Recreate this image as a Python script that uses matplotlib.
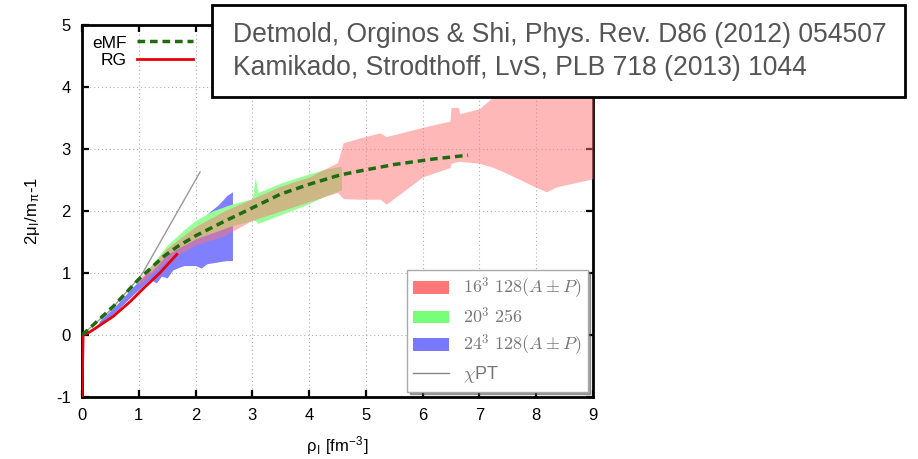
import matplotlib
matplotlib.use("Agg")
import matplotlib.pyplot as plt
from matplotlib.patches import Patch, Rectangle
from matplotlib.lines import Line2D

plt.rcParams["font.family"] = ["Liberation Sans", "DejaVu Sans"]
plt.rcParams["mathtext.fontset"] = "cm"
plt.rcParams["axes.unicode_minus"] = False

# 16^3 128(A+-P) band
red_x = [1.0, 1.5, 2.0, 2.5, 3.0, 3.5, 4.0, 4.5, 4.6, 4.9, 5.25, 5.36, 6.0,
         6.48, 6.5, 6.63, 6.65, 7.0, 7.25, 7.5, 8.0, 8.18, 8.36, 8.65, 9.0]
red_hi = [0.9, 1.4, 1.75, 2.0, 2.2, 2.4, 2.55, 2.78, 3.1, 3.18, 3.26, 3.2, 3.35,
          3.45, 3.67, 3.67, 3.57, 3.65, 3.85, 4.0, 4.1, 4.1, 4.1, 4.1, 4.1]
red_lo = [0.8, 1.2, 1.45, 1.6, 1.85, 2.0, 2.15, 2.3, 2.2, 2.19, 2.19, 2.11, 2.55,
          2.7, 2.77, 2.8, 2.8, 2.77, 2.7, 2.6, 2.38, 2.31, 2.39, 2.45, 2.52]

# 20^3 256 band
green_x = [1.2, 1.5, 1.8, 2.0, 2.3, 2.6, 3.0, 3.05, 3.1, 3.5, 4.0, 4.3, 4.57]
green_hi = [1.1, 1.45, 1.7, 1.85, 2.0, 2.1, 2.2, 2.55, 2.3, 2.45, 2.6, 2.68, 2.72]
green_lo = [1.0, 1.3, 1.45, 1.55, 1.65, 1.75, 1.85, 1.85, 1.8, 1.94, 2.12, 2.25, 2.34]

# 24^3 128(A+-P) band
blue_x = [0.3, 0.6, 0.9, 1.2, 1.31, 1.4, 1.5, 1.6, 1.73, 1.8, 2.0, 2.1, 2.2, 2.4, 2.55, 2.65]
blue_hi = [0.22, 0.48, 0.78, 1.05, 1.15, 1.22, 1.3, 1.38, 1.45, 1.55, 1.72, 1.82, 1.95, 2.1, 2.25, 2.31]
blue_lo = [0.15, 0.38, 0.65, 0.9, 0.84, 0.95, 0.92, 1.05, 1.1, 1.12, 1.12, 1.08, 1.15, 1.18, 1.2, 1.2]

emf_x = [0.0, 0.1, 0.55, 1.0, 1.43, 1.67, 2.0, 2.5, 3.0, 3.49, 4.0, 4.54, 4.89, 5.5, 6.2, 6.8]
emf_y = [0.0, 0.08, 0.46, 0.9, 1.26, 1.42, 1.6, 1.83, 2.05, 2.27, 2.43, 2.58, 2.645, 2.75, 2.84, 2.90]

rg_x = [0.0, 0.02, 0.14, 0.32, 0.55, 0.85, 1.08, 1.37, 1.67]
rg_y = [-1.0, 0.0, 0.05, 0.16, 0.30, 0.54, 0.75, 1.0, 1.30]

chpt_x = [0.0, 0.5, 1.05, 2.08]
chpt_y = [0.0, 0.4, 0.97, 2.63]

ref_lines = [
    "Detmold, Orginos & Shi, Phys. Rev. D86 (2012) 054507",
    "Kamikado, Strodthoff, LvS, PLB 718 (2013) 1044",
]

RED_C = (1.0, 115 / 255, 115 / 255)
GREEN_C = "#99ff99"
BLUE_C = "#8080ff"
EMF_C = "#1f6b12"
GRID_C = "#b0b0b0"

fig = plt.figure(figsize=(9.18, 4.59), dpi=100)
ax = fig.add_axes([82 / 918, 1 - 397 / 459, 511 / 918, 372 / 459])

ax.fill_between(blue_x, blue_lo, blue_hi, color=BLUE_C, lw=0, zorder=1)
ax.fill_between(green_x, green_lo, green_hi, color=GREEN_C, lw=0, zorder=2)
ax.fill_between(red_x, red_lo, red_hi, color=RED_C, alpha=0.5, lw=0, zorder=3)

ax.plot(chpt_x, chpt_y, color="#999999", lw=1.0, zorder=4)
ax.plot(rg_x, rg_y, color="#e8000b", lw=2.0, zorder=5)
ax.plot(emf_x, emf_y, color=EMF_C, lw=2.5, dashes=(2.2, 1.4), zorder=6)

ax.set_xlim(0, 9)
ax.set_ylim(-1, 5)
ax.set_xticks(range(0, 10))
ax.set_yticks(range(-1, 6))
ax.grid(True, color=GRID_C, linestyle=(0, (1, 2.5)), lw=0.8)
ax.set_axisbelow(True)
for sp in ax.spines.values():
    sp.set_linewidth(2.0)
ax.tick_params(direction="in", length=5, width=1.6, top=True, right=True,
               labelsize=12, pad=8)

ax.set_xlabel("ρ$_{\\mathregular{I}}$ [fm$^{\\mathregular{-3}}$]", fontsize=12, labelpad=8)
ax.set_ylabel("2μ$_{\\mathregular{I}}$/m$_{\\mathregular{π}}$-1", fontsize=12, labelpad=10)

# top-left legend (curves)
h1 = [Line2D([0], [0], color=EMF_C, lw=2.5, dashes=(2.2, 1.4)),
      Line2D([0], [0], color="#e8000b", lw=2.0)]
leg1 = ax.legend(h1, ["eMF", "RG"], loc="upper left", frameon=False,
                 markerfirst=False, fontsize=12.5, handlelength=3.2,
                 labelspacing=0.15, borderaxespad=0.2, handletextpad=0.6)
ax.add_artist(leg1)

# lower-right legend (bands)
h2 = [Patch(facecolor="#ff7777", edgecolor="none"),
      Patch(facecolor="#77ff77", edgecolor="none"),
      Patch(facecolor="#7777ff", edgecolor="none"),
      Line2D([0], [0], color="#888888", lw=1.0)]
l2 = [r"$16^3\ 128(A\pm P)$", r"$20^3\ 256$", r"$24^3\ 128(A\pm P)$", r"$\chi$PT"]
leg2 = ax.legend(h2, l2, loc="lower right", fontsize=13, fancybox=False,
                 shadow=True, framealpha=1, edgecolor="#aaaaaa",
                 borderaxespad=0.3, borderpad=0.35, handlelength=2.0,
                 handletextpad=0.75, labelspacing=0.32)
for t in leg2.get_texts():
    t.set_color("#777777")

# reference box
fig.add_artist(Rectangle((212 / 918, 1 - 97 / 459), 693 / 918, 92 / 459,
                         transform=fig.transFigure, facecolor="white",
                         edgecolor="black", lw=2.0, zorder=10))
ref_texts = []
for i, line in enumerate(ref_lines):
    ref_texts.append(fig.text(233 / 918, 1 - (42 + 33 * i) / 459, line, fontsize=17,
                              color="#555555", va="baseline", ha="left", zorder=11))

# scale the reference text so the first line spans the same width as the original
fig.canvas.draw()
w = ref_texts[0].get_window_extent().width
for t in ref_texts:
    t.set_fontsize(17 * 655 / w)

fig.savefig("out.png", dpi=100)
